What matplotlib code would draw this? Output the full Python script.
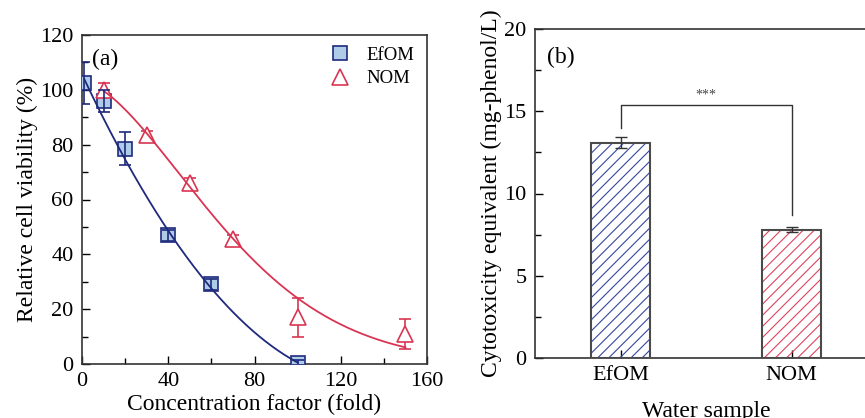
import numpy as np
import matplotlib
matplotlib.use("Agg")
from matplotlib import pyplot as plt

plt.rcParams['font.family'] = ['Liberation Serif', 'DejaVu Serif']
plt.rcParams['hatch.linewidth'] = 0.8

# (a) cell viability vs concentration factor
efom_x = [1, 10, 20, 40, 60, 100]
efom_y = [102.5, 96, 78.5, 47, 29, 0.5]
efom_err = [7.5, 4, 6, 2, 2, 1]

nom_x = [10, 30, 50, 70, 100, 150]
nom_y = [100, 83.5, 66, 45.5, 17, 11]
nom_err = [2.5, 1.5, 2, 1.5, 7, 5.5]

# (b) cytotoxicity equivalent per water sample
samples = ['EfOM', 'NOM']
cyto = [13.1, 7.8]
cyto_err = [0.35, 0.15]

navy = '#1f2a7c'
red = '#d93553'
sq_fill = '#aecbe8'
hatch_cols = ['#3547a0', '#e0425e']
FS = 17
TS = 16


def weibull(x, top, c, k):
    return top * np.exp(-(np.asarray(x) / c) ** k)


def fit_weibull(x, y, err):
    # weighted least squares by brute-force grid search
    x = np.asarray(x, float)
    y = np.asarray(y, float)
    w = 1.0 / np.asarray(err, float) ** 2
    T = np.arange(95, 110.01, 0.5)[:, None, None, None]
    C = np.arange(50, 120.01, 0.5)[None, :, None, None]
    K = np.arange(1.0, 2.6, 0.02)[None, None, :, None]
    sse = (w * (T * np.exp(-(x / C) ** K) - y) ** 2).sum(axis=-1)
    i, j, l = np.unravel_index(np.argmin(sse), sse.shape)
    return T.ravel()[i], C.ravel()[j], K.ravel()[l]


fig = plt.figure(figsize=(8.65, 4.18), dpi=100)
ax1 = fig.add_axes([82 / 865, 54 / 418, 345 / 865, 329 / 418])
ax2 = fig.add_axes([535 / 865, 60 / 418, 342 / 865, 329 / 418])

# fitted curves
xf1 = np.linspace(efom_x[0], efom_x[-1], 200)
c1 = np.polyfit(efom_x, efom_y, 2, w=1 / np.asarray(efom_err, float) ** 2)
xf2 = np.linspace(nom_x[0], nom_x[-1], 200)
p2 = fit_weibull(nom_x, nom_y, nom_err)

ax1.plot(xf1, np.polyval(c1, xf1), color=navy, lw=1.3, zorder=4)
ax1.plot(xf2, weibull(xf2, *p2), color=red, lw=1.3, zorder=4)

ax1.plot(efom_x, efom_y, 's', ms=10, mfc=sq_fill, mec=navy, mew=1.2,
         zorder=3, label='EfOM')
ax1.errorbar(efom_x, efom_y, yerr=efom_err, fmt='none', ecolor=navy,
             elinewidth=1.2, capsize=4, capthick=1.2, zorder=5)
ax1.errorbar(nom_x, nom_y, yerr=nom_err, fmt='none', ecolor=red,
             elinewidth=1.2, capsize=4, capthick=1.2, zorder=2)
ax1.plot(nom_x, nom_y, '^', ms=12, mfc='white', mec=red, mew=1.2,
         zorder=3, label='NOM')

ax1.set_xlim(0, 160)
ax1.set_ylim(0, 120)
ax1.set_xticks([0, 40, 80, 120, 160])
ax1.set_xticks([20, 60, 100, 140], minor=True)
ax1.set_yticks(range(0, 121, 20))
ax1.set_yticks(range(10, 120, 20), minor=True)
ax1.set_xlabel('Concentration factor (fold)', fontsize=FS, labelpad=2)
ax1.set_ylabel('Relative cell viability (%)', fontsize=FS, labelpad=2)
ax1.text(0.03, 0.925, '(a)', transform=ax1.transAxes, fontsize=FS,
         ha='left', va='center')
ax1.legend(loc='upper right', bbox_to_anchor=(1.0, 1.005), frameon=False,
           fontsize=13.5, handlelength=1.0, handletextpad=0.9,
           borderaxespad=0.3, labelspacing=0.35)

# (b) hatched bars
xpos = np.arange(len(samples))
bw = 0.35
for i in xpos:
    ax2.bar(xpos[i], cyto[i], width=bw, facecolor='none',
            edgecolor=hatch_cols[i], hatch='///', linewidth=0, zorder=2)
    ax2.bar(xpos[i], cyto[i], width=bw, facecolor='none', edgecolor='#4a4a4a',
            linewidth=1.5, zorder=3)
ax2.errorbar(xpos, cyto, yerr=cyto_err, fmt='none', ecolor='#333333',
             elinewidth=1.0, capsize=4, capthick=1.0, zorder=4)

# significance bracket
yb = 15.4
ax2.plot([xpos[0], xpos[0], xpos[1], xpos[1]],
         [cyto[0] + 0.9, yb, yb, cyto[1] + 0.9], color='#333333', lw=1.0)
ax2.text(0.5, yb + 0.2, '***', ha='center', va='bottom', fontsize=10,
         color='#444444')

ax2.set_xlim(-0.5, 1.5)
ax2.set_ylim(0, 20)
ax2.set_xticks(xpos)
ax2.set_xticklabels(samples)
ax2.set_yticks(range(0, 21, 5))
ax2.set_yticks(np.arange(2.5, 20, 5), minor=True)
ax2.set_xlabel('Water sample', fontsize=FS, labelpad=11)
ax2.set_ylabel('Cytotoxicity equivalent (mg-phenol/L)', fontsize=FS,
               labelpad=2)
ax2.text(0.035, 0.915, '(b)', transform=ax2.transAxes, fontsize=FS,
         ha='left', va='center')

for ax in (ax1, ax2):
    ax.tick_params(which='both', direction='in', labelsize=TS, pad=6)
    ax.tick_params(which='major', length=6, width=1.0)
    ax.tick_params(which='minor', length=4, width=1.0)
    for s in ax.spines.values():
        s.set_linewidth(1.2)
        s.set_color('#333333')
ax2.tick_params(axis='x', which='minor', length=0)

fig.savefig('out.png', dpi=100)
